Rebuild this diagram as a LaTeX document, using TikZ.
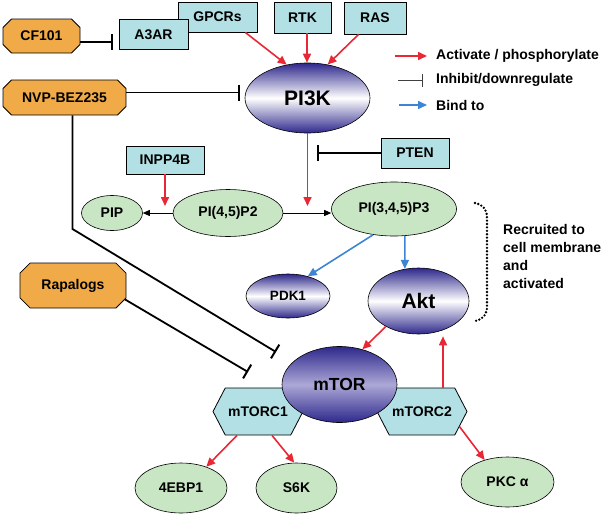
\documentclass[tikz,border=0pt]{standalone}
\usepackage{fontspec}
\setmainfont{Liberation Sans}
\usetikzlibrary{positioning,calc,arrows.meta,shapes.geometric,shapes.misc,shapes.symbols}
\definecolor{boxcyan}{RGB}{178,224,228}
\definecolor{lipgreen}{RGB}{200,230,196}
\definecolor{drugorange}{RGB}{240,170,72}
\definecolor{kinase}{RGB}{46,40,140}
\definecolor{lavender}{RGB}{172,168,214}
\definecolor{actred}{RGB}{232,40,52}
\definecolor{bindblue}{RGB}{60,132,212}
\newcommand{\snode}[4]{\node [#1] (#2) at (#3) {#4}}
\tikzset{
  lbl/.style={font=\fontsize{14}{17}\selectfont\bfseries},
  recbox/.style={lbl, draw, line width=0.8pt, fill=boxcyan, inner sep=0pt},
  drug/.style={lbl, chamfered rectangle, chamfered rectangle xsep=9pt, draw, line width=0.8pt, fill=drugorange, inner sep=0pt},
  lipid/.style={lbl, ellipse, draw, line width=0.6pt, fill=lipgreen, inner sep=0pt},
  kin/.style={ellipse, draw, line width=0.6pt, top color=kinase, bottom color=kinase, middle color=white, inner sep=0pt},
  cplx/.style={lbl, signal, signal to=west and east, signal from=nowhere, signal pointer angle=125, draw, line width=0.8pt, fill=boxcyan, inner sep=0pt},
  act/.style={-{Triangle[width=8pt,length=9pt]}, actred, line width=1.6pt},
  inh/.style={-{Bar[width=16pt,line width=2pt]}, line width=1.8pt},
  bind/.style={-{Triangle[width=8pt,length=9pt]}, bindblue, line width=1.6pt},
  conv/.style={-{Triangle[width=6pt,length=7pt]}, line width=0.9pt},
}

\begin{document}
\begin{tikzpicture}[x=1pt,y=-1pt]
\useasboundingbox (0,0) rectangle (607,517);

\snode{recbox, minimum width=79pt, minimum height=30pt}{GPCR}{217.5,17}{GPCRs};
\snode{recbox, minimum width=69pt, minimum height=30pt}{A3AR}{153.5,34.5}{A3AR};
\snode{recbox, minimum width=57pt, minimum height=31pt}{RTK}{302.5,17.5}{RTK};
\snode{recbox, minimum width=62pt, minimum height=32pt}{RAS}{375,18}{RAS};
\snode{drug, minimum width=77pt, minimum height=34pt}{CF}{41.5,36}{CF101};
\snode{drug, minimum width=123pt, minimum height=35pt}{NVP}{64.5,97.5}{NVP-BEZ235};
\snode{kin, minimum width=125pt, minimum height=70pt, font=\fontsize{21}{24}\selectfont\bfseries}{PIK}{307.5,98}{PI3K};

\snode{lbl, inner sep=0pt, anchor=west}{legact}{436,56}{Activate / phosphorylate};
\snode{lbl, inner sep=0pt, anchor=west}{leginh}{436,80}{Inhibit/downregulate};
\snode{lbl, inner sep=0pt, anchor=west}{legbind}{436,105}{Bind to};

\snode{recbox, minimum width=68pt, minimum height=30pt}{PTEN}{415,153}{PTEN};
\snode{recbox, minimum width=78pt, minimum height=28pt}{INPP}{165,160}{INPP4B};
\snode{lipid, minimum width=61pt, minimum height=35pt}{PIP}{112,213}{PIP};
\snode{lipid, minimum width=110pt, minimum height=47pt}{PIP2}{228,213}{PI(4,5)P2};
\snode{lipid, minimum width=125pt, minimum height=54pt}{PIP3}{394,209}{PI(3,4,5)P3};
\snode{kin, minimum width=84pt, minimum height=44pt, font=\fontsize{13.5}{16}\selectfont\bfseries}{PDK}{288,296}{PDK1};
\snode{kin, minimum width=101pt, minimum height=66pt, font=\fontsize{21}{24}\selectfont\bfseries}{Akt}{418.5,301}{Akt};
\snode{drug, minimum width=106pt, minimum height=45pt}{Rap}{73,285.5}{Rapalogs};
\snode{lbl, inner sep=0pt, anchor=west, align=left, font=\fontsize{14}{18}\selectfont\bfseries}{recr}{503,256}{Recruited to\\cell membrane\\and\\activated};

\snode{cplx, minimum width=90pt, minimum height=47pt}{mTORCa}{258,411.5}{mTORC1};
\snode{cplx, minimum width=90pt, minimum height=47pt}{mTORCb}{422,411.5}{mTORC2};
\snode{kin, middle color=lavender, minimum width=115pt, minimum height=76pt, font=\fontsize{17.5}{20}\selectfont\bfseries}{mTOR}{339.5,384.5}{mTOR};
\snode{lipid, minimum width=92pt, minimum height=50pt}{EBP}{181,488}{4EBP1};
\snode{lipid, minimum width=81pt, minimum height=50pt}{SK}{296.5,488}{S6K};
\snode{lipid, minimum width=93pt, minimum height=50pt}{PKC}{507.5,482}{PKC α};

\coordinate (inpend) at (165,206);
\coordinate (pikend) at (307.5,206);
\coordinate (ptenend) at (317,153);
\coordinate (nvpbend) at (72.5,229);
\coordinate (nvpend) at (276,352);
\coordinate (rapend) at (248,372);

\draw[act] ([xshift=-41pt]legact.west) -- ([xshift=-9pt]legact.west);
\draw[-{Bar[width=13pt,line width=1.2pt]}, line width=0.8pt, black!75] ([xshift=-38pt]leginh.west) -- ([xshift=-13pt]leginh.west);
\draw[bind] ([xshift=-37pt]legbind.west) -- ([xshift=-9pt]legbind.west);

\draw[inh] ([yshift=-6pt]CF.east) -- ([yshift=-6pt,xshift=-6pt]CF.east -| A3AR.west);
\draw[inh] ([yshift=5pt]NVP.east) -- ([yshift=5pt,xshift=-5pt]NVP.east -| PIK.west);
\draw[inh] (NVP.south -| nvpbend) -- (nvpbend) -- (nvpend);
\draw[inh] (Rap.-15) -- (rapend);

\draw[act] (GPCR.-29) -- (PIK.122);
\draw[act] ([xshift=4.5pt]RTK.south) -- ([xshift=4.5pt]RTK.south |- PIK.north);
\draw[act] (RAS.-135) -- (PIK.59);
\draw[act] (PIK.south) -- (pikend);
\draw[inh] (PTEN.west) -- (ptenend);
\draw[act] (INPP.south) -- (inpend);
\draw[conv] (PIP2.west) -- (PIP.east);
\draw[conv] (PIP2.east) -- (PIP2.east -| PIP3.west);

\draw[bind] (PIP3.231) -- (PDK.45);
\draw[bind] (PIP3.-68) -- (Akt.113);
\draw[line width=2.6pt, dash pattern=on 0pt off 3.4pt, line cap=round] (475,203) .. controls (484,205) and (487,210) .. (487,218) -- (487,306) .. controls (487,314) and (484,319) .. (475,321);

\draw[act] (Akt.218) -- (mTOR.57);
\draw[act, shorten >=2pt] ([xshift=21pt]mTORCb.north) -- ([xshift=21pt]mTORCb.north |- Akt.south);
\draw[act] ([xshift=-21pt]mTORCa.south) -- (EBP.40);
\draw[act] ([xshift=14pt]mTORCa.south) -- (SK.95);
\draw[act] (mTORCb.-22) -- (PKC.136);

\end{tikzpicture}
\end{document}
